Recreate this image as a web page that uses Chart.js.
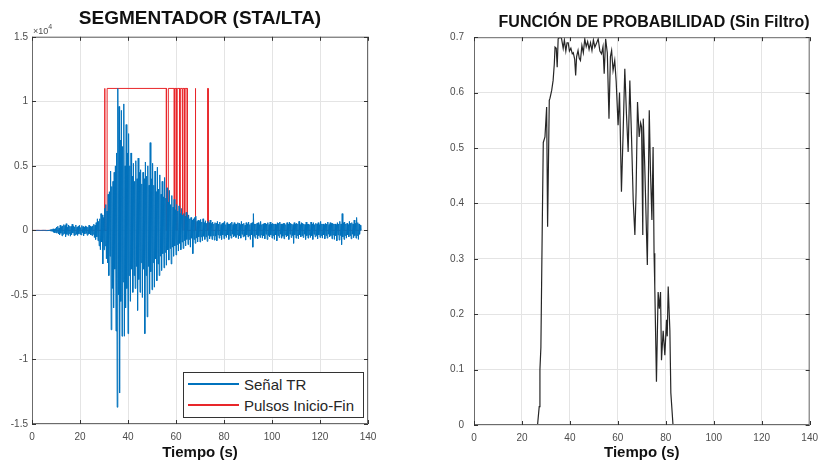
<!DOCTYPE html>
<html>
<head>
<meta charset="utf-8">
<script src="https://cdn.jsdelivr.net/npm/chart.js@4.4.0/dist/chart.umd.min.js"></script>
<style>
    body {
        margin: 0;
        width: 818px;
        height: 462px;
        overflow: hidden;
        position: relative;
        background: #fff;
        font-family: "Liberation Sans", Arial, sans-serif;
    }
    .panel { position: absolute; top: 0; height: 462px; }
    #leftPanel { left: 0; width: 410px; }
    #rightPanel { left: 410px; width: 408px; }
    .legend {
        position: absolute;
        left: 183px;
        top: 372px;
        width: 181px;
        height: 46px;
        box-sizing: border-box;
        border: 1px solid #333;
        background: #fff;
    }
    .legend-row {
        position: absolute;
        left: 4px;
        height: 20px;
        display: flex;
        align-items: center;
        font-size: 15px;
        color: #262626;
        white-space: nowrap;
    }
    .legend-line { width: 51px; margin-right: 5px; }
</style>
</head>
<body>
<div class="panel" id="leftPanel"><canvas id="signalChart"></canvas></div>
<div class="panel" id="rightPanel"><canvas id="probChart"></canvas></div>
<div class="legend" id="signalLegend"></div>

<script>
// Seismic trace, one sample every 0.25 s starting at t = 0 (counts)
const SIGNAL_DT = 0.25;
const signalValues = [
    0, 3, -4, 5, -3, 6, -5, 4, -6, 3, -4, 7, -5, 4, -8, 6, -5, 8, -7, 5,                                              // 0 s
    -8, 12, -10, 18, -15, 22, -20, 30, -28, 40, -35, 60, -50, 90, -80, 120, -140, 110, -180, 150,                    // 5 s
    -200, 260, -150, 320, -280, 180, -350, 400, -220, 300, -420, 350, -300, 450, -250, 380, -480, 520, -300, 250,    // 10 s
    -380, 420, -250, 330, -450, 300, -320, 480, -200, 350, -400, 280, -350, 420, -300, 250, -380, 320, -260, 400,    // 15 s
    -300, 220, -350, 380, -180, 300, -420, 260, -280, 350, -220, 300, -380, 250, -300, 400, -250, 320, -350, 280,    // 20 s
    -400, 350, -300, 480, -550, 400, -700, 600, -500, 900, -800, 700, -1200, 900, -1500, 1300, -900, 1200, -2600, 1000,          // 25 s
    -1500, 1700, -1200, 2000, -2200, 1500, -2500, 2800, -3500, 3000, -2000, 4600, -7700, 3400, -4500, 3800, -6000, 4500, -3000, 5000, // 30 s
    -7800, 6000, -13700, 11000, -5000, 9600, -12600, 7000, -5500, 9300, -8200, 6500, -4000, 9800, -8200, 5000, -6000, 8200, -4500, 6000, // 35 s
    -8000, 7500, -3500, 5000, -5500, 6000, -3000, 4200, -4800, 5200, -3500, 3800, -4500, 5400, -2800, 4000, -6200, 5600, -3800, 4500, // 40 s
    -4800, 4700, -2500, 3600, -5200, 4500, -3000, 4000, -8000, 5300, -3500, 4200, -6700, 5000, -2800, 3500, -4900, 6800, -3200, 4000, // 45 s
    -4600, 5200, -2500, 3500, -4400, 4600, -2200, 3000, -3900, 4900, -2600, 3200, -3500, 4300, -2000, 2800, -3100, 3800, -1800, 2600, // 50 s
    -2900, 4100, -1700, 2500, -2700, 3300, -1500, 2200, -2300, 3100, -1400, 2000, -2600, 2700, -1300, 1800, -2000, 2400, -1200, 1600, // 55 s
    -1900, 2000, -1100, 1500, -1600, 1900, -1000, 1300, -1500, 1700, -900, 1200, -1400, 1300, -800, 1100, -1200, 1400, -700, 1000,   // 60 s
    -1100, 1200, -700, 900, -1300, 1000, -600, 800, -1800, 900, -700, 1000, -1000, 1100, -600, 700, -900, 800, -500, 750,           // 65 s
    -900, 850, -500, 650, -800, 900, -450, 600, -700, 750, -500, 550, -850, 700, -400, 600, -650, 800, -450, 550,    // 70 s
    -700, 650, -400, 500, -750, 600, -450, 550, -800, 700, -350, 500, -600, 650, -400, 450, -700, 550, -350, 600,    // 75 s
    -650, 700, -400, 450, -550, 600, -350, 500, -700, 500, -400, 550, -600, 650, -300, 450, -500, 600, -400, 500,    // 80 s
    -550, 500, -350, 600, -650, 550, -400, 450, -600, 700, -300, 500, -500, 550, -450, 400, -750, 600, -350, 500,    // 85 s
    -500, 650, -400, 450, -700, 550, -350, 600, -1300, 1300, -450, 500, -600, 500, -350, 550, -650, 600, -400, 450,  // 90 s
    -550, 700, -350, 450, -600, 500, -400, 550, -650, 550, -300, 500, -700, 600, -400, 450, -500, 650, -350, 500,    // 95 s
    -600, 550, -400, 500, -700, 500, -350, 450, -800, 600, -400, 550, -550, 650, -300, 500, -600, 500, -450, 550,    // 100 s
    -650, 550, -350, 450, -500, 600, -400, 500, -700, 650, -300, 550, -550, 500, -400, 450, -1000, 600, -350, 500,   // 105 s
    -600, 550, -400, 500, -650, 700, -350, 450, -500, 600, -400, 550, -550, 500, -300, 450, -700, 650, -400, 500,    // 110 s
    -600, 500, -350, 450, -550, 650, -400, 500, -700, 600, -300, 450, -500, 550, -400, 500, -650, 600, -350, 450,    // 115 s
    -550, 700, -400, 500, -600, 500, -350, 450, -650, 550, -400, 500, -600, 650, -300, 450, -500, 600, -400, 550,    // 120 s
    -650, 550, -350, 500, -700, 500, -400, 450, -800, 600, -350, 500, -750, 700, -400, 500, -1100, 1300, -500, 600,  // 125 s
    -700, 650, -400, 500, -600, 550, -350, 450, -500, 700, -400, 550, -650, 600, -300, 500, -550, 800, -400, 550,    // 130 s
    -600, 1000, -400, 600, -700, 500, -300, 400, 0                                                                   // 135 s
];

// STA/LTA trigger: pairs of (on, off) times in seconds
const pulseEdges = [
    30.2, 30.4,
    31.3, 56.0,
    56.8, 59.3,
    59.6, 60.2,
    60.5, 61.5,
    61.8, 62.6,
    62.9, 63.5,
    63.8, 64.7,
    68.0, 68.2,
    73.2, 73.4
];
const PULSE_LEVEL = 11000;
const SIGNAL_END = 137;

// Probability curve (unfiltered)
const probTime = [
    0, 26.5, 27.2, 27.5, 27.9, 28.5, 28.9, 29.6, 30.3, 30.7,
    31.4, 31.7, 32.4, 33.0, 33.5, 33.8, 34.3, 34.7, 35.1, 35.8,
    36.5, 37.2, 37.7, 38.3, 38.8, 39.3, 39.8, 40.4, 41.0, 41.4,
    42.0, 42.4, 42.8, 43.4, 43.9, 44.4, 45.0, 45.6, 46.2, 46.8,
    47.4, 48.0, 48.6, 49.2, 49.8, 50.4, 51.0, 51.8, 52.5, 53.2,
    53.8, 54.3, 54.9, 55.6, 56.3, 56.9, 57.4, 58.0, 58.7, 59.3,
    60.1, 60.7, 61.5, 62.2, 62.9, 63.6, 64.3, 65.0, 65.7, 66.4,
    67.1, 67.6, 68.2, 68.9, 69.5, 69.9, 70.4, 70.6, 71.2, 71.8,
    72.3, 73.1, 73.6, 74.2, 74.7, 75.1, 75.4, 76.1, 76.8, 77.3,
    77.8, 78.2, 78.9, 79.6, 80.3, 80.6, 81.0, 81.7, 82.1, 83.0,
    136.3
];
const probValues = [
    0, 0, 0.033, 0.1, 0.14, 0.37, 0.51, 0.52, 0.574, 0.358,
    0.586, 0.59, 0.604, 0.622, 0.652, 0.682, 0.68, 0.646, 0.697, 0.7,
    0.698, 0.68, 0.695, 0.675, 0.69, 0.69, 0.675, 0.68, 0.67, 0.672,
    0.66, 0.631, 0.665, 0.676, 0.662, 0.658, 0.685, 0.672, 0.697, 0.683,
    0.692, 0.678, 0.69, 0.676, 0.695, 0.682, 0.688, 0.697, 0.675, 0.67,
    0.683, 0.634, 0.697, 0.672, 0.553, 0.665, 0.676, 0.64, 0.658, 0.62,
    0.541, 0.6, 0.421, 0.527, 0.643, 0.56, 0.493, 0.622, 0.52, 0.406,
    0.343, 0.42, 0.583, 0.52, 0.545, 0.538, 0.343, 0.553, 0.47, 0.37,
    0.289, 0.568, 0.46, 0.37, 0.502, 0.31, 0.25, 0.078, 0.24, 0.21,
    0.24, 0.117, 0.17, 0.126, 0.19, 0.16, 0.25, 0.17, 0.058, 0,
    0
];

const FONT = '"Liberation Sans", Arial, sans-serif';
const TICK_COLOR = '#4d4d4d';
const GRID_COLOR = '#e4e4e4';

// Box around the plot area with small inward ticks, like MATLAB axes
const axesBox = {
    id: 'axesBox',
    afterDraw(chart) {
        const { ctx, chartArea: a, scales } = chart;
        ctx.save();
        ctx.strokeStyle = '#6b6b6b';
        ctx.lineWidth = 1;
        ctx.strokeRect(a.left + 0.5, a.top + 0.5, a.width - 1, a.height - 1);
        ctx.strokeStyle = '#333';
        ctx.beginPath();
        scales.x.ticks.forEach(t => {
            const px = Math.round(scales.x.getPixelForValue(t.value)) + 0.5;
            ctx.moveTo(px, a.bottom); ctx.lineTo(px, a.bottom - 4);
            ctx.moveTo(px, a.top); ctx.lineTo(px, a.top + 4);
        });
        scales.y.ticks.forEach(t => {
            const py = Math.round(scales.y.getPixelForValue(t.value)) + 0.5;
            ctx.moveTo(a.left, py); ctx.lineTo(a.left + 4, py);
            ctx.moveTo(a.right, py); ctx.lineTo(a.right - 4, py);
        });
        ctx.stroke();
        ctx.restore();
    }
};

// "x10^4" multiplier above the y axis
const exponentLabel = {
    id: 'exponentLabel',
    afterDraw(chart) {
        const { ctx, chartArea: a } = chart;
        ctx.save();
        ctx.fillStyle = TICK_COLOR;
        ctx.font = '9px ' + FONT;
        ctx.fillText('\u00d710', a.left + 1, a.top - 3);
        const w = ctx.measureText('\u00d710').width;
        ctx.font = '7px ' + FONT;
        ctx.fillText('4', a.left + 1 + w, a.top - 8);
        ctx.restore();
    }
};

function fixedSize(prop, size) {
    return function(scale) { scale[prop] = size; };
}

function buildScales(opts) {
    return {
        x: {
            type: 'linear',
            min: 0,
            max: 140,
            // gap under the plot comes from an invisible tick mark, so the
            // last label does not push the plot area in from the right
            ticks: { stepSize: 20, padding: 0, color: TICK_COLOR, font: { family: FONT, size: 10 }, maxRotation: 0 },
            grid: { color: GRID_COLOR, drawTicks: true, tickLength: 7, tickColor: 'rgba(0,0,0,0)' },
            border: { display: false },
            title: { display: true, text: 'Tiempo (s)', color: '#111', font: { family: FONT, size: 15, weight: 'bold' }, padding: { top: 0, bottom: 0 } },
            afterFit: fixedSize('height', opts.xHeight)
        },
        y: {
            min: opts.yMin,
            max: opts.yMax,
            ticks: {
                stepSize: opts.yStep,
                padding: opts.yPad,
                color: TICK_COLOR,
                font: { family: FONT, size: 10 },
                callback: opts.yFormat
            },
            grid: { color: GRID_COLOR, drawTicks: false },
            border: { display: false },
            afterFit: fixedSize('width', opts.yWidth)
        }
    };
}

// Build the trace and the trigger steps
const signalPoints = signalValues.map((v, i) => ({ x: i * SIGNAL_DT, y: v }));

const pulsePoints = [{ x: 0, y: 0 }];
for (let i = 0; i < pulseEdges.length; i += 2) {
    const on = pulseEdges[i], off = pulseEdges[i + 1];
    pulsePoints.push({ x: on, y: 0 }, { x: on, y: PULSE_LEVEL }, { x: off, y: PULSE_LEVEL }, { x: off, y: 0 });
}
pulsePoints.push({ x: SIGNAL_END, y: 0 });

const probPoints = probTime.map((t, i) => ({ x: t, y: probValues[i] }));

const signalChart = new Chart(document.getElementById('signalChart'), {
    type: 'line',
    data: {
        datasets: [
            {
                label: 'Señal TR',
                data: signalPoints,
                borderColor: '#0072bd',
                borderWidth: 1,
                pointRadius: 0,
                legendWidth: 2
            },
            {
                label: 'Pulsos Inicio-Fin',
                data: pulsePoints,
                borderColor: '#e8262a',
                borderWidth: 1,
                pointRadius: 0,
                legendWidth: 1.5
            }
        ]
    },
    options: {
        responsive: true,
        maintainAspectRatio: false,
        animation: false,
        layout: { padding: { left: 0, right: 42, top: 0, bottom: 0 } },
        plugins: {
            legend: { display: false },
            tooltip: { enabled: false },
            title: {
                display: true,
                text: 'SEGMENTADOR (STA/LTA)',
                color: '#111',
                fullSize: false,
                font: { family: FONT, size: 19, weight: 'bold' },
                padding: { top: 7, bottom: 7 }
            }
        },
        scales: buildScales({
            xHeight: 38, yWidth: 32, yPad: 4,
            yMin: -15000, yMax: 15000, yStep: 5000,
            yFormat: v => String(v / 10000)
        })
    },
    plugins: [axesBox, exponentLabel]
});

new Chart(document.getElementById('probChart'), {
    type: 'line',
    data: {
        datasets: [{
            label: 'Probabilidad',
            data: probPoints,
            borderColor: '#262626',
            borderWidth: 1.2,
            pointRadius: 0
        }]
    },
    options: {
        responsive: true,
        maintainAspectRatio: false,
        animation: false,
        layout: { padding: { left: 0, right: 0, top: 0, bottom: 0 } },
        plugins: {
            legend: { display: false },
            tooltip: { enabled: false },
            title: {
                display: true,
                text: 'FUNCIÓN DE PROBABILIDAD (Sin Filtro)',
                color: '#111',
                fullSize: false,
                align: 'end',
                font: { family: FONT, size: 16, weight: 'bold' },
                padding: { top: 13, bottom: 5 }
            }
        },
        scales: buildScales({
            xHeight: 37, yWidth: 64, yPad: 10,
            yMin: 0, yMax: 0.7, yStep: 0.1,
            yFormat: v => String(Number(v.toFixed(1)))
        })
    },
    plugins: [axesBox]
});

// Legend box for the left panel, built from the dataset settings
const legendBox = document.getElementById('signalLegend');
signalChart.data.datasets.forEach((ds, i) => {
    const row = document.createElement('div');
    row.className = 'legend-row';
    row.style.top = (1 + i * 21) + 'px';
    const line = document.createElement('span');
    line.className = 'legend-line';
    line.style.height = ds.legendWidth + 'px';
    line.style.background = ds.borderColor;
    row.appendChild(line);
    row.appendChild(document.createTextNode(ds.label));
    legendBox.appendChild(row);
});
</script>
</body>
</html>
